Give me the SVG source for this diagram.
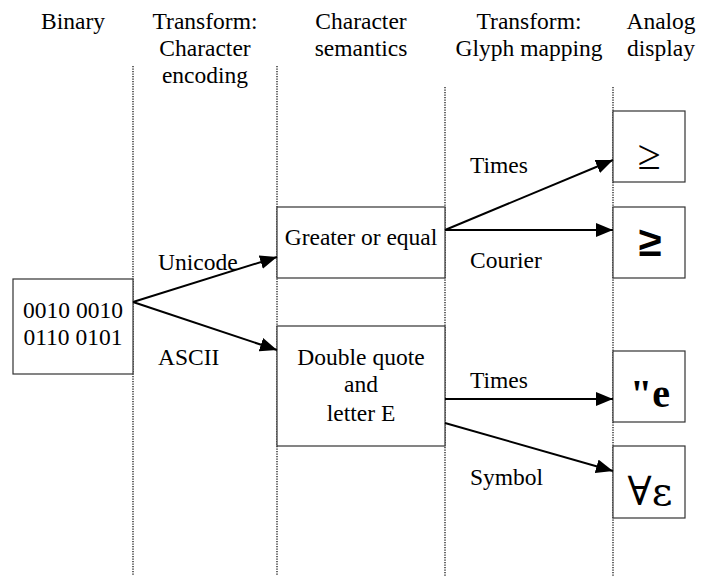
<svg xmlns="http://www.w3.org/2000/svg" width="712" height="576" viewBox="0 0 712 576">
<style>
.c{text-anchor:middle}
.box{fill:#fff;stroke:#333;stroke-width:1.2}
.sep{stroke:#000;stroke-width:1.2;stroke-dasharray:1.2 1.3;fill:none}
.arr{stroke:#000;stroke-width:2;fill:none;marker-end:url(#ah)}
</style>
<defs>
<marker id="ah" markerUnits="userSpaceOnUse" markerWidth="18" markerHeight="14" refX="17" refY="7" orient="auto">
<path d="M0,0 L17,7 L0,14 Z" fill="#000"/>
</marker>
</defs>
<rect width="712" height="576" fill="#fff"/>
<g font-family="Liberation Serif, Times New Roman, Times, serif" font-size="23.5" fill="#000">
<g id="headers">
<text class="c" x="73" y="29">Binary</text>
<text class="c" x="205" y="29">Transform:</text>
<text class="c" x="205" y="56">Character</text>
<text class="c" x="205" y="83">encoding</text>
<text class="c" x="361" y="29">Character</text>
<text class="c" x="361" y="56">semantics</text>
<text class="c" x="529" y="29">Transform:</text>
<text class="c" x="529" y="56">Glyph mapping</text>
<text class="c" x="661" y="29">Analog</text>
<text class="c" x="661" y="56">display</text>
</g>
<g id="separators">
<line class="sep" x1="133" y1="66" x2="133" y2="576"/>
<line class="sep" x1="277" y1="66" x2="277" y2="576"/>
<line class="sep" x1="445" y1="87" x2="445" y2="576"/>
<line class="sep" x1="613" y1="87" x2="613" y2="576"/>
</g>
<g id="binary">
<rect class="box" x="13" y="279" width="120" height="95"/>
<text class="c" x="73" y="318">0010 0010</text>
<text class="c" x="73" y="345">0110 0101</text>
</g>
<g id="greater">
<rect class="box" x="277" y="207" width="168" height="71"/>
<text class="c" x="361" y="245">Greater or equal</text>
</g>
<g id="dquote">
<rect class="box" x="277" y="326" width="168" height="120"/>
<text class="c" x="361" y="365">Double quote</text>
<text class="c" x="361" y="392">and</text>
<text class="c" x="361" y="421">letter E</text>
</g>
<g id="disp-times-ge">
<rect class="box" x="613" y="111" width="72" height="71"/>
<text class="c" x="649" y="169" font-size="42">≥</text>
</g>
<g id="disp-courier-ge">
<rect class="box" x="613" y="207" width="72" height="71"/>
<text class="c" x="650" y="256" font-family="Liberation Mono, Courier New, monospace" font-size="42" font-weight="bold">≥</text>
</g>
<g id="disp-times-qe">
<rect class="box" x="613" y="351" width="72" height="71"/>
<text class="c" x="650" y="407" font-size="40" font-weight="bold">"e</text>
</g>
<g id="disp-symbol">
<rect class="box" x="613" y="446" width="72" height="72"/>
<text class="c" x="650" y="505" font-family="DejaVu Serif, serif" font-size="40">∀ε</text>
</g>
<g id="connectors">
<line class="arr" x1="133" y1="302" x2="277" y2="257"/>
<line class="arr" x1="133" y1="302" x2="277" y2="350"/>
<line class="arr" x1="445" y1="230" x2="613" y2="160"/>
<line class="arr" x1="445" y1="230" x2="613" y2="230"/>
<line class="arr" x1="445" y1="399" x2="613" y2="399"/>
<line class="arr" x1="445" y1="423" x2="613" y2="471"/>
<text x="158" y="270">Unicode</text>
<text x="158" y="365">ASCII</text>
<text x="470" y="173">Times</text>
<text x="470" y="268">Courier</text>
<text x="470" y="388">Times</text>
<text x="470" y="485">Symbol</text>
</g>
</g>
</svg>
